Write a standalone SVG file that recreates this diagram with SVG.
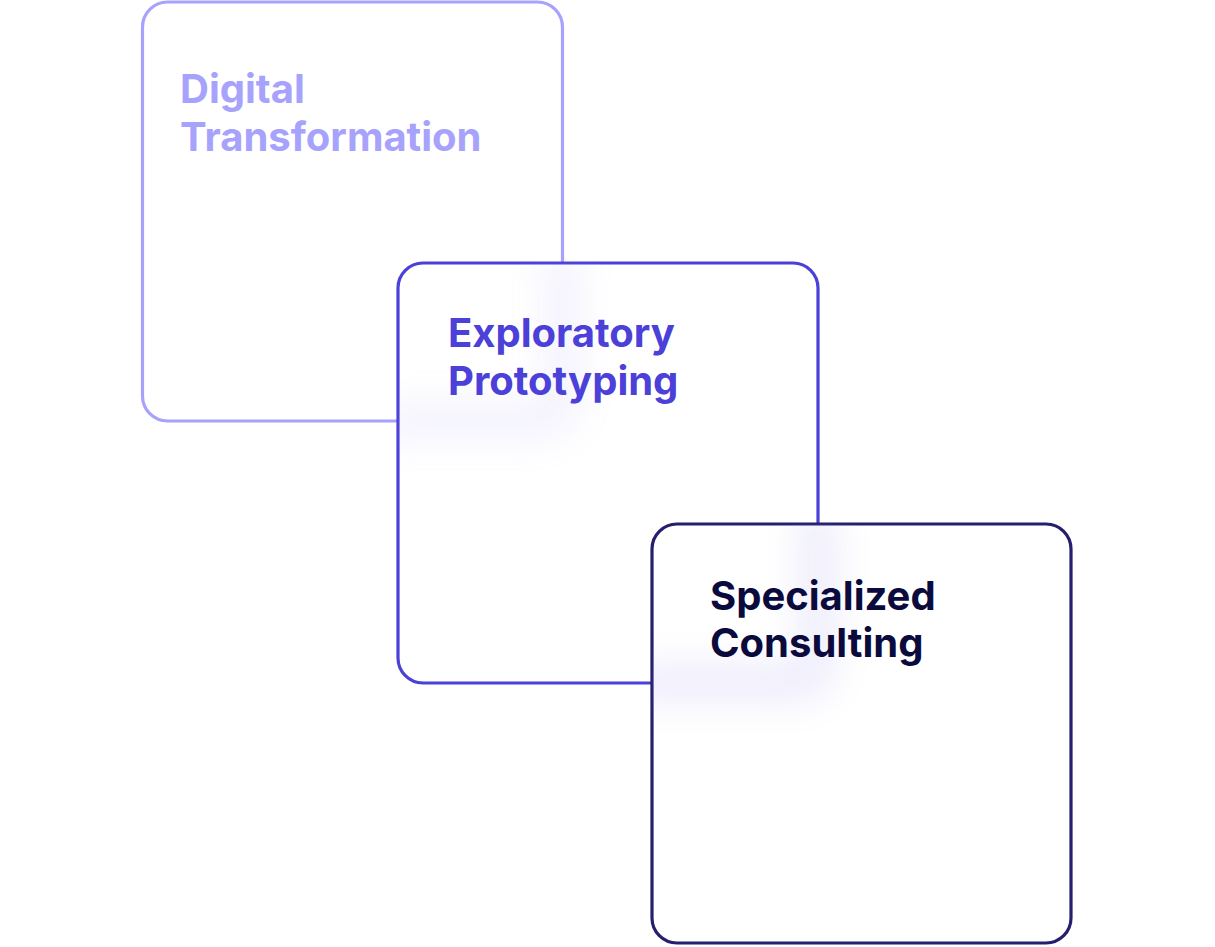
<svg xmlns="http://www.w3.org/2000/svg" width="1215" height="947" viewBox="0 0 1215 947">
<style>
.card{fill:#ffffff;stroke-width:3.2}
.lbl{font-family:Inter,"Liberation Sans",sans-serif;font-weight:700;font-size:40px}
</style>
<defs>
<filter id="blur" x="-50%" y="-50%" width="200%" height="200%"><feGaussianBlur stdDeviation="18"/></filter>
<clipPath id="c2"><rect x="398" y="263" width="420" height="420" rx="25"/></clipPath>
<clipPath id="c3"><rect x="652" y="524" width="420" height="420" rx="25"/></clipPath>
</defs>
<g id="node-digital">
<rect class="card" x="142.5" y="2" width="420" height="419" rx="25" stroke="#a7a2fc"/>
<text class="lbl" fill="#a7a2fc" x="180" y="103">Digital</text>
<text class="lbl" fill="#a7a2fc" x="180" y="151">Transformation</text>
</g>
<g id="node-exploratory">
<rect class="card" x="398" y="263" width="420" height="420" rx="25" stroke="#4b40d8"/>
<g clip-path="url(#c2)"><path d="M562 250 V396 Q562 421 537 421 H380" fill="none" stroke="#9c96f0" stroke-width="36" opacity="0.12" filter="url(#blur)"/></g>
<text class="lbl" fill="#4b40d8" x="448" y="347">Exploratory</text>
<text class="lbl" fill="#4b40d8" x="448" y="395">Prototyping</text>
</g>
<g id="node-specialized">
<rect class="card" x="652" y="524" width="419" height="419" rx="25" stroke="#251f6e"/>
<g clip-path="url(#c3)"><path d="M818 510 V658 Q818 683 793 683 H634" fill="none" stroke="#8e88e8" stroke-width="36" opacity="0.16" filter="url(#blur)"/></g>
<text class="lbl" fill="#0b0a3d" x="710" y="610">Specialized</text>
<text class="lbl" fill="#0b0a3d" x="710" y="657">Consulting</text>
</g>
<g id="connectors"/>
</svg>
